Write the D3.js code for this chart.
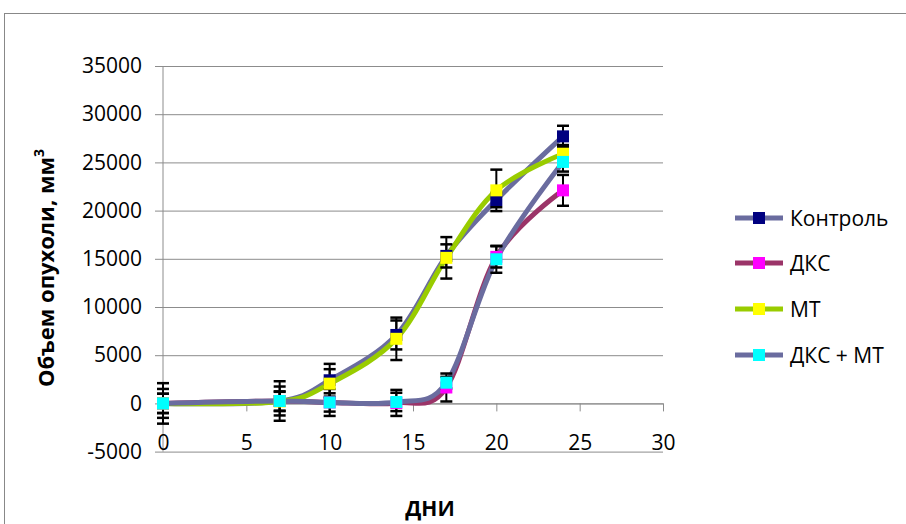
<!DOCTYPE html>
<html>
<head>
<meta charset="utf-8">
<script src="https://cdn.jsdelivr.net/npm/d3@7"></script>
<style>
  html, body { margin: 0; padding: 0; background: #fff; }
  svg { display: block; }
  text { font-family: "Open Sans", "Liberation Sans", sans-serif; fill: #000; }
</style>
</head>
<body>
<svg id="chart" width="906" height="524"></svg>
<script>
// ---- data ----
const days = [0, 7, 10, 14, 17, 20, 24];
const seriesNames = ["Контроль", "ДКС", "МТ", "ДКС + МТ"];
const control    = [0, 250, 2400, 7100, 15300, 21100, 27700];
const controlErr = [2100, 2050, 1700, 1500, 1200, 750, 1100];
const dks        = [0, 250, 100, 50, 1650, 15200, 22100];
const dksErr     = [1500, 1500, 1400, 1350, 1450, 1100, 1600];
const mt         = [0, 200, 2050, 6700, 15100, 22100, 25900];
const mtErr      = [1000, 1000, 1500, 2200, 2150, 2150, 900];
const dksmt      = [0, 250, 100, 150, 2150, 14950, 25050];
const dksmtErr   = [1000, 1000, 950, 950, 600, 1400, 1000];
const xTicks = [0, 5, 10, 15, 20, 25, 30];
const yTicks = [-5000, 0, 5000, 10000, 15000, 20000, 25000, 30000, 35000];
const lineColors   = ["#6A6C9F", "#9B3468", "#99CC00", "#6A6C9F"];
const markerColors = ["#000080", "#FF00FF", "#FFFF00", "#00FFFF"];

const values = [control, dks, mt, dksmt];
const errors = [controlErr, dksErr, mtErr, dksmtErr];

const svg = d3.select("#chart");

// outer chart border
svg.append("rect").attr("x", 4.5).attr("y", 13.5).attr("width", 1000).attr("height", 1000)
  .attr("fill", "none").attr("stroke", "#888").attr("stroke-width", 1);

const x = d3.scaleLinear().domain([0, 30]).range([163, 663]);
const y = d3.scaleLinear().domain([-5000, 35000]).range([451.6, 66]);
const fmt = d => String(d);

// y gridlines + labels
const yAxis = svg.append("g").attr("transform", "translate(155,0)")
  .call(d3.axisLeft(y).tickValues(yTicks).tickFormat(fmt).tickSizeInner(-(663 - 155)).tickSizeOuter(0).tickPadding(13));
yAxis.select(".domain").remove();
yAxis.selectAll(".tick line").attr("stroke", "#8c8c8c").attr("stroke-width", 1);
yAxis.selectAll(".tick text").attr("font-size", 21).attr("font-family", "Open Sans, sans-serif");

// y axis line
svg.append("line").attr("x1", 163).attr("x2", 163).attr("y1", y(35000)).attr("y2", y(-5000))
  .attr("stroke", "#8c8c8c").attr("stroke-width", 1);

// x axis at value 0
const xAxis = svg.append("g").attr("transform", `translate(0,${y(0)})`)
  .call(d3.axisBottom(x).tickValues(xTicks).tickFormat(fmt).tickSizeInner(8).tickSizeOuter(0).tickPadding(24));
xAxis.select(".domain").attr("stroke", "#8c8c8c");
xAxis.selectAll(".tick line").attr("stroke", "#8c8c8c");
xAxis.selectAll(".tick text").attr("font-size", 21).attr("font-family", "Open Sans, sans-serif");

// lines
const line = d3.line().x(d => x(d[0])).y(d => y(d[1])).curve(d3.curveCatmullRom.alpha(0));
values.forEach((vals, i) => {
  svg.append("path").datum(days.map((d, j) => [d, vals[j]]))
    .attr("d", line).attr("fill", "none")
    .attr("stroke", lineColors[i]).attr("stroke-width", 5).attr("stroke-linejoin", "round");
});

// error bars
values.forEach((vals, i) => {
  const g = svg.append("g").attr("stroke", "#000").attr("stroke-width", 2);
  days.forEach((d, j) => {
    const cx = x(d), v = vals[j], e = errors[i][j];
    if (!e) return;
    g.append("line").attr("x1", cx).attr("x2", cx).attr("y1", y(v + e)).attr("y2", y(v - e));
    g.append("line").attr("x1", cx - 6).attr("x2", cx + 6).attr("y1", y(v + e)).attr("y2", y(v + e)).attr("stroke-width", 2.5);
    g.append("line").attr("x1", cx - 6).attr("x2", cx + 6).attr("y1", y(v - e)).attr("y2", y(v - e)).attr("stroke-width", 2.5);
  });
});

// markers
values.forEach((vals, i) => {
  svg.append("g").selectAll("rect").data(days.map((d, j) => [d, vals[j]])).join("rect")
    .attr("x", d => x(d[0]) - 6).attr("y", d => y(d[1]) - 6)
    .attr("width", 12).attr("height", 12)
    .attr("fill", markerColors[i]);
});

// axis titles
svg.append("text")
  .attr("transform", "translate(54,268) rotate(-90)")
  .attr("text-anchor", "middle").attr("font-weight", "bold").attr("font-size", 22)
  .text("Объем опухоли, мм")
  .append("tspan").attr("font-size", 14).attr("dy", -10).text("3");

svg.append("text").attr("x", 430).attr("y", 516).attr("text-anchor", "middle")
  .attr("font-weight", "bold").attr("font-size", 21).text("ДНИ");

// legend
const legendY = [218, 263, 309, 355];
seriesNames.forEach((name, i) => {
  const ly = legendY[i];
  svg.append("line").attr("x1", 735).attr("x2", 783).attr("y1", ly).attr("y2", ly)
    .attr("stroke", lineColors[i]).attr("stroke-width", 5);
  svg.append("rect").attr("x", 753).attr("y", ly - 6).attr("width", 12).attr("height", 12)
    .attr("fill", markerColors[i]);
  svg.append("text").attr("x", 790).attr("y", ly + 8).attr("font-size", 21).text(name);
});
</script>
</body>
</html>
